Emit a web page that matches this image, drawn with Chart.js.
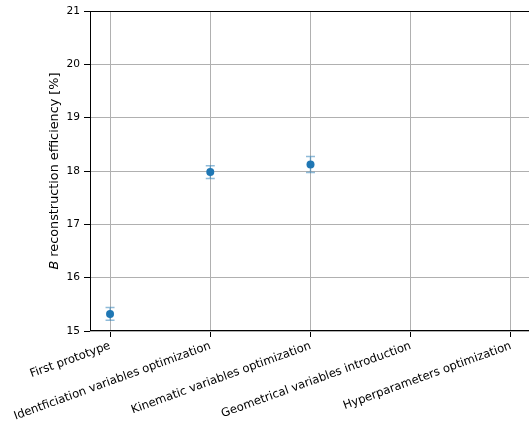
<!DOCTYPE html>
<html>
<head>
<meta charset="utf-8">
<script src="https://cdn.jsdelivr.net/npm/chart.js@4/dist/chart.umd.min.js"></script>
<style>
  html, body { margin: 0; padding: 0; overflow: hidden; background: #fff; }
  #wrap { width: 545px; height: 423px; position: relative; }
</style>
</head>
<body>
<div id="wrap"><canvas id="chart"></canvas></div>
<script>
// Datos
const categories = [
    'First prototype',
    'Identficiation variables optimization',
    'Kinematic variables optimization',
    'Geometrical variables introduction',
    'Hyperparameters optimization'
];
const efficiency = [15.32, 17.98, 18.12];
const efficiencyErr = [0.12, 0.12, 0.15];
const yTicks = [15, 16, 17, 18, 19, 20, 21];

const FONT = 'DejaVu Sans';

// Barras de error con extremos
const errorBars = {
    id: 'errorBars',
    beforeDatasetsDraw(chart) {
        const { ctx, scales: { x, y } } = chart;
        ctx.save();
        ctx.strokeStyle = 'rgba(31,119,180,0.5)';
        ctx.lineWidth = 1.5;
        efficiency.forEach((v, i) => {
            const px = x.getPixelForValue(i);
            const top = y.getPixelForValue(v + efficiencyErr[i]);
            const bot = y.getPixelForValue(v - efficiencyErr[i]);
            ctx.beginPath();
            ctx.moveTo(px, top); ctx.lineTo(px, bot);
            ctx.moveTo(px - 4.5, top); ctx.lineTo(px + 4.5, top);
            ctx.moveTo(px - 4.5, bot); ctx.lineTo(px + 4.5, bot);
            ctx.stroke();
        });
        ctx.restore();
    }
};

// Marco completo y título del eje Y (B en cursiva)
const frameAndTitle = {
    id: 'frameAndTitle',
    afterDraw(chart) {
        const { ctx, chartArea: a } = chart;
        ctx.save();
        ctx.strokeStyle = '#000';
        ctx.lineWidth = 1;
        ctx.strokeRect(a.left + 0.5, a.top + 0.5, a.right - a.left - 1, a.bottom - a.top - 1);

        const italic = 'italic 12.8px "' + FONT + '"';
        const normal = '12.8px "' + FONT + '"';
        const rest = ' reconstruction efficiency [%]';
        ctx.font = italic;
        const w1 = ctx.measureText('B').width;
        ctx.font = normal;
        const w2 = ctx.measureText(rest).width;
        const total = w1 + w2;
        ctx.translate(55, (a.top + a.bottom) / 2);
        ctx.rotate(-Math.PI / 2);
        ctx.fillStyle = '#000';
        ctx.textBaseline = 'middle';
        ctx.textAlign = 'left';
        ctx.font = italic;
        ctx.fillText('B', -total / 2, 0);
        ctx.font = normal;
        ctx.fillText(rest, -total / 2 + w1, 0);
        ctx.restore();
    }
};

const ctx = document.getElementById('chart').getContext('2d');
new Chart(ctx, {
    type: 'scatter',
    data: {
        datasets: [{
            data: efficiency.map((v, i) => ({ x: i, y: v })),
            backgroundColor: '#1f77b4',
            borderWidth: 0,
            pointRadius: 4,
            pointHoverRadius: 4
        }]
    },
    options: {
        responsive: true,
        maintainAspectRatio: false,
        animation: false,
        events: [],
        layout: { padding: { top: 11, right: 14, left: 0, bottom: 0 } },
        plugins: { legend: { display: false }, tooltip: { enabled: false } },
        scales: {
            x: {
                type: 'linear',
                min: -0.2,
                max: 4.2,
                afterBuildTicks(scale) { scale.ticks = categories.map((c, i) => ({ value: i })); },
                afterFit(scale) { scale.height = 92; },
                border: { display: false },
                grid: { color: '#b0b0b0', lineWidth: 1, tickColor: '#000', tickLength: 6 },
                ticks: {
                    autoSkip: false,
                    minRotation: 20,
                    maxRotation: 20,
                    padding: 2,
                    color: '#000',
                    font: { family: FONT, size: 11.6 },
                    callback: (v) => categories[v]
                }
            },
            y: {
                min: 15,
                max: 21,
                afterBuildTicks(scale) { scale.ticks = yTicks.map(v => ({ value: v })); },
                afterFit(scale) { scale.width = 90; },
                border: { display: false },
                grid: { color: '#b0b0b0', lineWidth: 1, tickColor: '#000', tickLength: 6 },
                ticks: {
                    padding: 4,
                    color: '#000',
                    font: { family: FONT, size: 10.6 }
                }
            }
        }
    },
    plugins: [errorBars, frameAndTitle]
});
</script>
</body>
</html>
